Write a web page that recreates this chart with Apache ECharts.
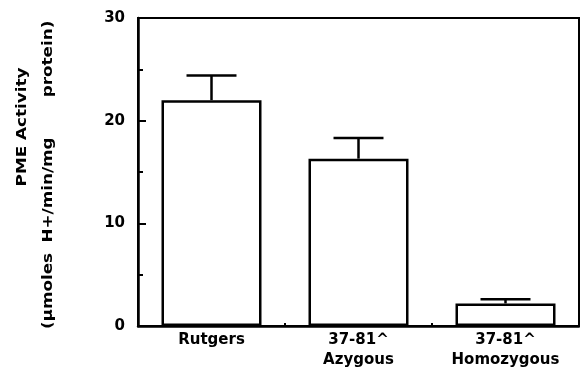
<!DOCTYPE html>
<html>
<head>
<meta charset="utf-8">
<script src="https://cdn.jsdelivr.net/npm/echarts@6/dist/echarts.min.js"></script>
<style>html,body{margin:0;padding:0;background:#fff;}#c{width:580px;height:373px;}</style>
</head>
<body>
<div id="c"></div>
<script>
const categories = ['Rutgers', '37-81^\nAzygous', '37-81^\nHomozygous'];
const means = [22.0, 16.3, 2.2];
const errors = [2.4, 2.0, 0.4];
const yMin = 0, yMax = 30, yInterval = 10;

const FONT = '"DejaVu Sans", "Liberation Sans", sans-serif';
const chart = echarts.init(document.getElementById('c'), null, {renderer: 'canvas'});
chart.setOption({
  backgroundColor: '#fff',
  animation: false,
  grid: {left: 138, right: 1, top: 18, bottom: 47, containLabel: false, outerBoundsMode: 'none',
         show: true, borderColor: '#000', borderWidth: 2, backgroundColor: 'transparent'},
  xAxis: {
    type: 'category',
    data: categories,
    axisLine: {lineStyle: {color: '#000', width: 2.5}},
    axisTick: {show: true, inside: true, length: 3, lineStyle: {color: '#000', width: 2}},
    axisLabel: {color: '#000', fontFamily: FONT, fontWeight: 'bold', fontSize: 15, lineHeight: 20, margin: 4, interval: 0}
  },
  yAxis: {
    type: 'value',
    min: yMin, max: yMax, interval: yInterval,
    axisLine: {show: true, lineStyle: {color: '#000', width: 2.5}},
    axisTick: {show: true, inside: true, length: 8, lineStyle: {color: '#000', width: 2}},
    minorTick: {show: true, splitNumber: 2, length: 5, lineStyle: {color: '#000', width: 2}},
    splitLine: {show: false},
    axisLabel: {color: '#000', fontFamily: FONT, fontWeight: 'bold', fontSize: 15, margin: 13}
  },
  series: [
    {
      type: 'bar',
      data: means,
      barWidth: 100,
      itemStyle: {color: '#fff', borderColor: '#000', borderWidth: 2.5},
      z: 2
    },
    {
      type: 'custom',
      z: 3,
      data: means.map((m, i) => [i, m, errors[i]]),
      renderItem: function (params, api) {
        const i = api.value(0), m = api.value(1), e = api.value(2);
        const p0 = api.coord([i, m]);
        const p1 = api.coord([i, m + e]);
        const half = api.size([1, 0])[0] * 0.17;
        const st = {stroke: '#000', lineWidth: 2.5};
        return {
          type: 'group',
          children: [
            {type: 'line', shape: {x1: p0[0], y1: p0[1], x2: p1[0], y2: p1[1]}, style: st},
            {type: 'line', shape: {x1: p1[0] - half, y1: p1[1], x2: p1[0] + half, y2: p1[1]}, style: st}
          ]
        };
      }
    }
  ],
  graphic: [
    {type: 'text', x: 22, y: 127, rotation: Math.PI / 2, scaleX: 1.2,
     style: {text: 'PME Activity', fill: '#000', font: 'bold 14px ' + FONT, align: 'center', verticalAlign: 'middle'}},
    {type: 'text', x: 48, y: 291, rotation: Math.PI / 2, scaleX: 1.2,
     style: {text: '(µmoles', fill: '#000', font: 'bold 14px ' + FONT, align: 'center', verticalAlign: 'middle'}},
    {type: 'text', x: 48, y: 190, rotation: Math.PI / 2, scaleX: 1.2,
     style: {text: 'H+/min/mg', fill: '#000', font: 'bold 14px ' + FONT, align: 'center', verticalAlign: 'middle'}},
    {type: 'text', x: 48, y: 59, rotation: Math.PI / 2, scaleX: 1.2,
     style: {text: 'protein)', fill: '#000', font: 'bold 14px ' + FONT, align: 'center', verticalAlign: 'middle'}}
  ]
});
</script>
</body>
</html>
